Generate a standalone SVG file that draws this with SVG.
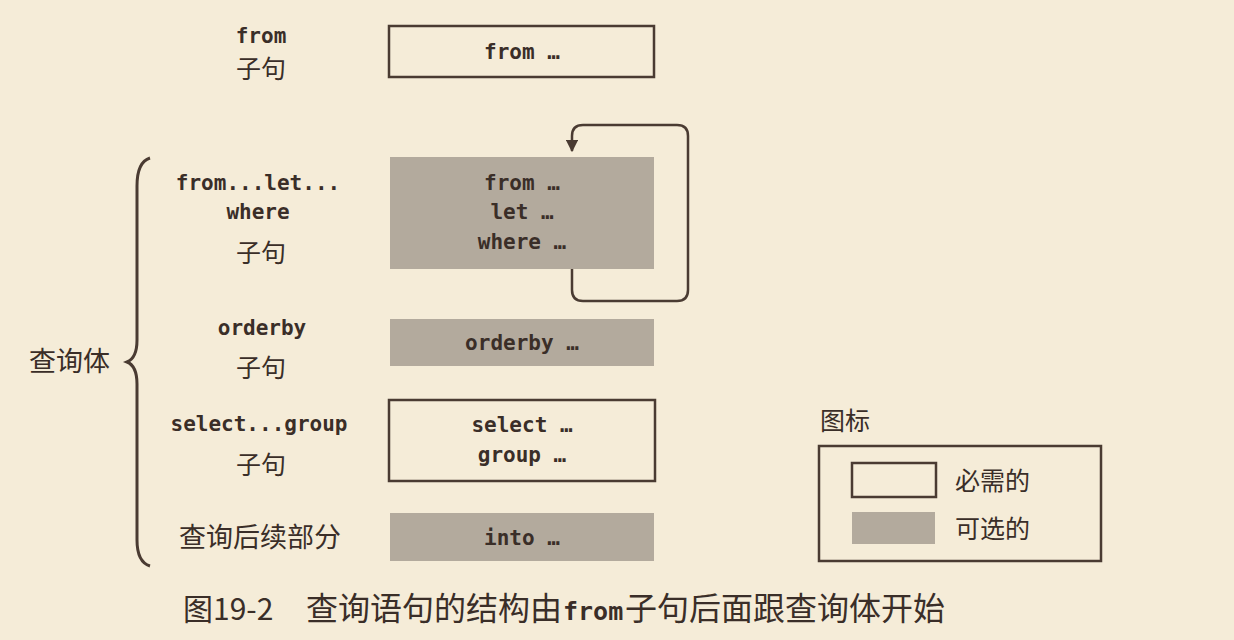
<svg xmlns="http://www.w3.org/2000/svg" width="1234" height="640" viewBox="0 0 1234 640">
<defs>
<style>
.mono{font-family:"DejaVu Sans Mono","Liberation Mono",monospace;font-size:21px;font-weight:bold;fill:#3a2e28;text-anchor:middle}
.cjk{font-family:"Noto Sans CJK SC","Noto Sans",sans-serif;font-size:25px;fill:#3a2e28}
.big{font-size:27px}
.cap{font-size:32px}
.mid{text-anchor:middle}
.req{fill:#f5ecd8;stroke:#4a3b32;stroke-width:2.5}
.opt{fill:#b3aa9d;stroke:none}
.line{fill:none;stroke:#4a3b32;stroke-width:2.5}
</style>
<marker id="arr" viewBox="0 0 10 10" refX="9" refY="5" markerWidth="5" markerHeight="5" orient="auto" markerUnits="strokeWidth">
<path d="M0,0 L10,5 L0,10 Z" fill="#4a3b32"/>
</marker>
</defs>
<rect x="0" y="0" width="1234" height="640" fill="#f5ecd8"/>

<g id="label-from">
<text class="mono" x="261" y="43">from</text>
<text class="cjk mid" x="261" y="78">子句</text>
</g>
<g id="node-from">
<rect class="req" x="389" y="26" width="265" height="51"/>
<text class="mono" x="522" y="59">from …</text>
</g>

<g id="brace-body">
<path class="line" style="stroke-width:3" d="M150,158 Q137,162 137,186 L137,340 Q137,358 127,362 Q137,366 137,384 L137,540 Q137,562 150,566"/>
<text class="cjk big" x="29" y="371">查询体</text>
</g>

<g id="label-fromletwhere">
<text class="mono" x="258" y="190">from...let...</text>
<text class="mono" x="258" y="219">where</text>
<text class="cjk mid" x="261" y="262">子句</text>
</g>
<g id="node-fromletwhere">
<rect class="opt" x="390" y="157" width="264" height="112"/>
<text class="mono" x="522" y="190">from …</text>
<text class="mono" x="522" y="219">let …</text>
<text class="mono" x="522" y="249">where …</text>
</g>

<g id="label-orderby">
<text class="mono" x="262" y="335">orderby</text>
<text class="cjk mid" x="261" y="377">子句</text>
</g>
<g id="node-orderby">
<rect class="opt" x="390" y="319" width="264" height="47"/>
<text class="mono" x="522" y="350">orderby …</text>
</g>

<g id="label-selectgroup">
<text class="mono" x="259" y="431">select...group</text>
<text class="cjk mid" x="261" y="474">子句</text>
</g>
<g id="node-selectgroup">
<rect class="req" x="389" y="400" width="266" height="81"/>
<text class="mono" x="522" y="432">select …</text>
<text class="mono" x="522" y="462">group …</text>
</g>

<g id="label-into">
<text class="cjk big mid" x="260" y="547">查询后续部分</text>
</g>
<g id="node-into">
<rect class="opt" x="390" y="513" width="264" height="48"/>
<text class="mono" x="522" y="545">into …</text>
</g>

<g id="connectors">
<path class="line" marker-end="url(#arr)" d="M572,269 L572,290 Q572,301 583,301 L677,301 Q688,301 688,290 L688,136 Q688,125 677,125 L583,125 Q572,125 572,136 L572,151"/>
</g>

<g id="legend">
<text class="cjk" x="820" y="430">图标</text>
<rect x="819" y="446" width="282" height="115" fill="none" stroke="#4a3b32" stroke-width="2.5"/>
<rect class="req" x="852" y="463" width="84" height="34"/>
<text class="cjk" x="955" y="490">必需的</text>
<rect class="opt" x="852" y="512" width="83" height="32"/>
<text class="cjk" x="955" y="538">可选的</text>
</g>

<g id="caption">
<text class="cjk" x="183" y="620" style="font-size:30px">图19-2</text>
<text class="cjk cap" x="306" y="620">查询语句的结构由</text>
<text x="563" y="620" style="font-family:'DejaVu Sans Mono',monospace;font-size:25px;font-weight:bold;fill:#3a2e28">from</text>
<text class="cjk cap" x="625" y="620">子句后面跟查询体开始</text>
</g>
</svg>
